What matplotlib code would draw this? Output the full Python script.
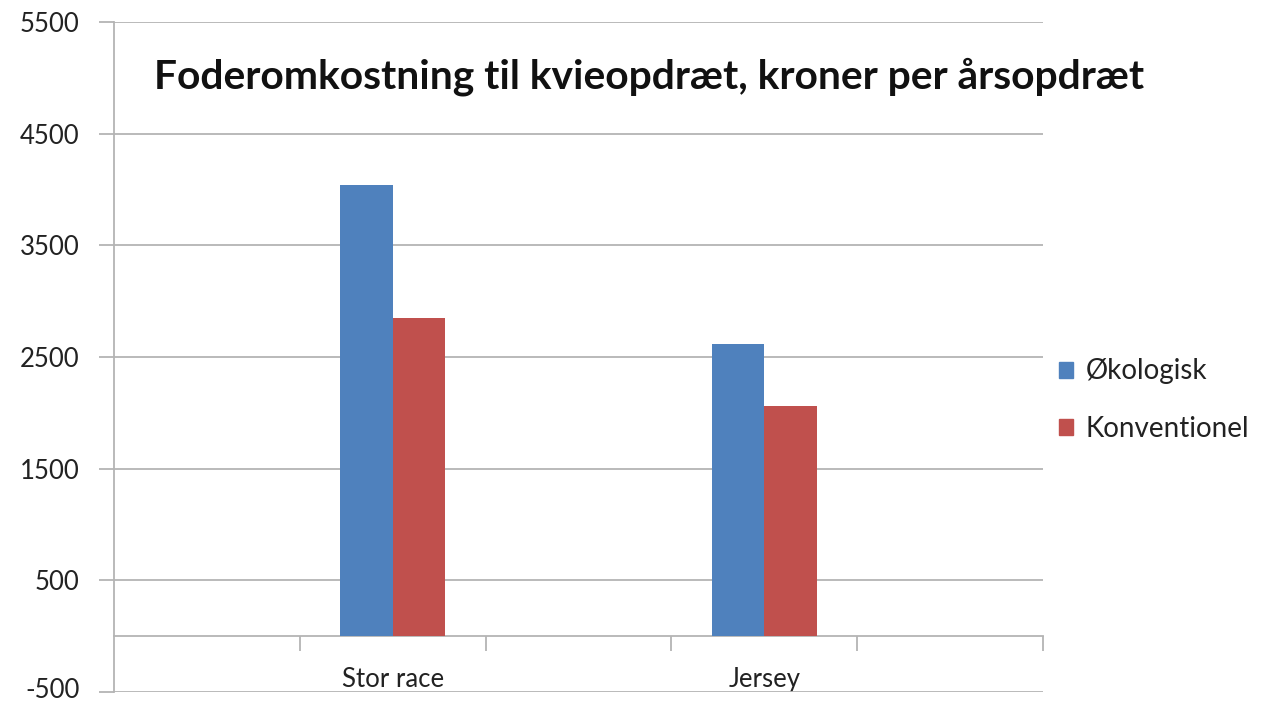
import numpy as np
import matplotlib
matplotlib.use("Agg")
import matplotlib.pyplot as plt
from matplotlib.ticker import FixedLocator, NullFormatter
from matplotlib.patches import Patch
from matplotlib.transforms import ScaledTranslation

plt.rcParams['font.family'] = ['Lato', 'DejaVu Sans']

title = "Foderomkostning til kvieopdræt, kroner per årsopdræt"
categories = ["Stor race", "Jersey"]
series_names = ["Økologisk", "Konventionel"]
okologisk = [4040, 2620]
konventionel = [2845, 2057]
y_ticks = [-500, 500, 1500, 2500, 3500, 4500, 5500]

blue = "#4F81BD"
red = "#C0504D"
grid_c = "#B4B4B4"
txt_c = "#222222"
fs = 18.5

fig = plt.figure(figsize=(12.79, 7.04), dpi=100)
ax = fig.add_axes([114/1279, 12/704, (1043-114)/1279, 670/704])

for s in ['top', 'right']:
    ax.spines[s].set_visible(False)
ax.spines['bottom'].set_position(('data', 0))
ax.spines['left'].set_color(grid_c)
ax.spines['left'].set_linewidth(1.3)
ax.spines['bottom'].set_color(grid_c)
ax.spines['bottom'].set_linewidth(1.3)

# 5 category slots: blank, Stor race, blank, Jersey, blank
pos = np.array([1 + 2*i for i in range(len(categories))], dtype=float)
w = 52.5/186
ax.bar(pos - w/2, okologisk, width=w, color=blue, label=series_names[0], zorder=3)
ax.bar(pos + w/2, konventionel, width=w, color=red, label=series_names[1], zorder=3)

ax.set_xlim(-0.5, 4.5)
ax.set_ylim(-500, 5500)
ax.set_yticks(y_ticks)
ax.set_yticklabels([str(v) for v in y_ticks])
ax.yaxis.grid(True, color=grid_c, linewidth=1.3, zorder=0)
ax.tick_params(axis='y', length=11, width=1.3, color=grid_c, pad=14,
               labelsize=fs, labelcolor=txt_c)

ax.set_xticks(pos)
ax.set_xticklabels(categories)
ax.xaxis.set_minor_locator(FixedLocator([0.5, 1.5, 2.5, 3.5, 4.5]))
ax.xaxis.set_minor_formatter(NullFormatter())
ax.tick_params(axis='x', which='major', length=0, pad=22,
               labelsize=fs, labelcolor=txt_c)
ax.tick_params(axis='x', which='minor', length=11, width=1.3, color=grid_c)

# nudge the bottom y label slightly up so it stays inside the figure
bottom_lbl = ax.get_yticklabels()[0]
bottom_lbl.set_transform(bottom_lbl.get_transform() +
                         ScaledTranslation(0, 3/72, fig.dpi_scale_trans))

fig.text(649/1279, 1 - 77/704, title, ha='center', va='center',
         fontsize=29.3, fontweight='bold', color="#111111")

handles = [Patch(color=blue), Patch(color=red)]
fig.legend(handles, series_names, loc='center left',
           bbox_to_anchor=(1034/1279, 1 - 400/704), frameon=False,
           fontsize=20, handlelength=0.5, handleheight=0.5,
           handletextpad=0.45, labelspacing=1.12, labelcolor=txt_c)

fig.savefig("out.png", dpi=100, facecolor="white")
